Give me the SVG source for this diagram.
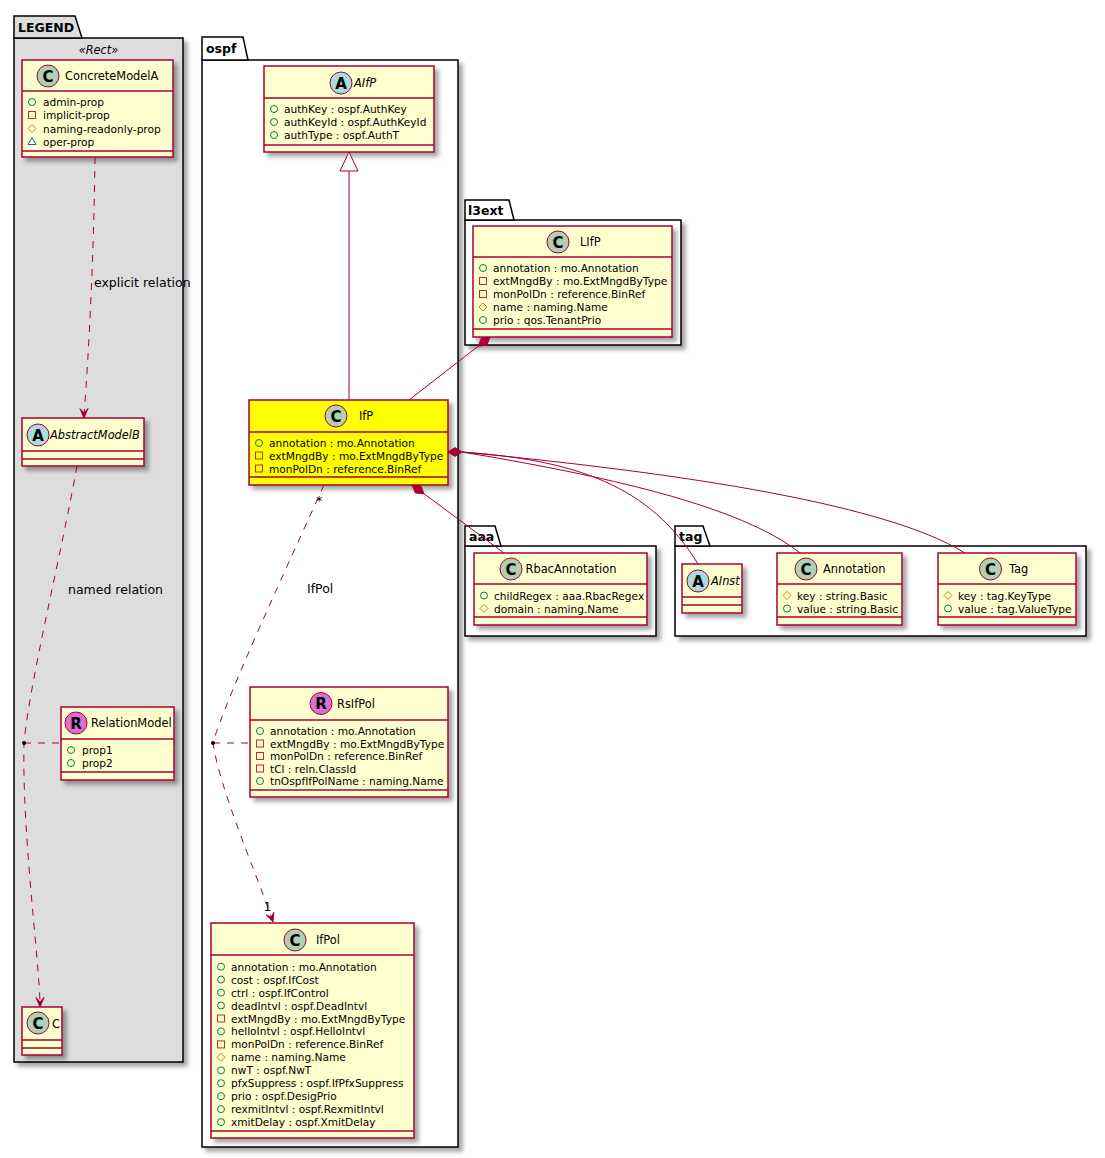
<svg xmlns="http://www.w3.org/2000/svg" width="1105" height="1158" viewBox="0 0 1105 1158">
<defs>
<filter id="sh" x="-10%" y="-10%" width="130%" height="130%">
<feGaussianBlur in="SourceAlpha" stdDeviation="2" result="b"/>
<feOffset in="b" dx="4" dy="4" result="o"/>
<feFlood flood-color="#000" flood-opacity="0.35"/>
<feComposite in2="o" operator="in" result="s"/>
<feMerge><feMergeNode in="s"/><feMergeNode in="SourceGraphic"/></feMerge>
</filter>
<circle id="pub" r="3.5" fill="none" stroke="#038048" stroke-width="1"/>
<rect id="priv" x="-3.5" y="-3.5" width="7" height="7" fill="none" stroke="#C82930" stroke-width="1"/>
<polygon id="prot" points="0,-4 4,0 0,4 -4,0" fill="none" stroke="#B38D22" stroke-width="1"/>
<polygon id="pkg" points="0,-4 4,3 -4,3" fill="none" stroke="#1963A0" stroke-width="1"/>
</defs>
<style>
.pk{fill:#fff;stroke:#000;stroke-width:1.5}
.leg{fill:#DDDDDD}
.pt{font-family:"DejaVu Sans",sans-serif;font-weight:bold;font-size:12.5px}
.box{fill:#FEFECE;stroke:#A80036;stroke-width:1.5}
.sep{stroke:#A80036;stroke-width:1.5}
.ci{stroke:#A80036;stroke-width:1}
.cC{fill:#ADD1B2}.cA{fill:#A9DCDF}.cR{fill:#DA70D6}
.lt{font-family:"DejaVu Sans",sans-serif;font-weight:bold;font-size:15px;text-anchor:middle}
.nm{font-family:"DejaVu Sans",sans-serif;font-size:11.4px}
.it{font-style:italic}
.at{font-family:"DejaVu Sans",sans-serif;font-size:10.6px}
.lb{font-family:"DejaVu Sans",sans-serif;font-size:12.5px}
.e{fill:none;stroke:#A80036;stroke-width:1}
.d{stroke-dasharray:7,7}
.ah{fill:#A80036;stroke:#A80036;stroke-width:1}
</style>
<rect width="1105" height="1158" fill="#fff"/>

<g id="pkg-LEGEND">
<rect class="pk leg" x="14" y="38" width="169" height="1024" filter="url(#sh)"/>
<polygon class="pk leg" points="14,38 14,16 75,16 82,38"/>
<text class="pt" x="18" y="32">LEGEND</text>
<text class="nm it" x="98.5" y="54" text-anchor="middle">«Rect»</text>
</g>
<g id="pkg-ospf">
<rect class="pk" x="202" y="60" width="256" height="1087" filter="url(#sh)"/>
<polygon class="pk" points="202,60 202,37 243,37 248,60"/>
<text class="pt" x="206" y="53">ospf</text>
</g>
<g id="pkg-l3ext">
<rect class="pk" x="465" y="220" width="216" height="125" filter="url(#sh)"/>
<polygon class="pk" points="465,220 465,200 509,200 514,220"/>
<text class="pt" x="468" y="215">l3ext</text>
</g>
<g id="pkg-aaa">
<rect class="pk" x="465" y="546" width="191" height="90" filter="url(#sh)"/>
<polygon class="pk" points="465,546 465,526 495,526 501,546"/>
<text class="pt" x="469" y="541">aaa</text>
</g>
<g id="pkg-tag">
<rect class="pk" x="675" y="546" width="411" height="90" filter="url(#sh)"/>
<polygon class="pk" points="675,546 675,526 703,526 710,546"/>
<text class="pt" x="679" y="541">tag</text>
</g>

<g id="ConcreteModelA">
<rect class="box" x="22" y="60" width="151" height="97" filter="url(#sh)"/>
<circle class="ci cC" cx="48" cy="76" r="11"/><text class="lt" x="48" y="81.5">C</text>
<text class="nm" x="65" y="80">ConcreteModelA</text>
<line class="sep" x1="22" y1="91" x2="173" y2="91"/>
<use href="#pub" x="32" y="102"/><text class="at" x="43" y="106">admin-prop</text>
<use href="#priv" x="32" y="115"/><text class="at" x="43" y="119">implicit-prop</text>
<use href="#prot" x="32" y="128.5"/><text class="at" x="43" y="132.5">naming-readonly-prop</text>
<use href="#pkg" x="32" y="141.5"/><text class="at" x="43" y="145.5">oper-prop</text>
<line class="sep" x1="22" y1="151" x2="173" y2="151"/>
</g>

<g id="AbstractModelB">
<rect class="box" x="22" y="418" width="122" height="48" filter="url(#sh)"/>
<circle class="ci cA" cx="38" cy="435" r="11"/><text class="lt" x="38" y="440.5">A</text>
<text class="nm it" x="50" y="439">AbstractModelB</text>
<line class="sep" x1="22" y1="451" x2="144" y2="451"/>
<line class="sep" x1="22" y1="459" x2="144" y2="459"/>
</g>

<g id="RelationModel">
<rect class="box" x="61" y="707" width="113" height="73" filter="url(#sh)"/>
<circle class="ci cR" cx="76" cy="723" r="11"/><text class="lt" x="76" y="728.5">R</text>
<text class="nm" x="91" y="727">RelationModel</text>
<line class="sep" x1="61" y1="739" x2="174" y2="739"/>
<use href="#pub" x="71" y="750"/><text class="at" x="82" y="754">prop1</text>
<use href="#pub" x="71" y="763"/><text class="at" x="82" y="767">prop2</text>
<line class="sep" x1="61" y1="772" x2="174" y2="772"/>
</g>

<g id="C">
<rect class="box" x="22" y="1007" width="40" height="48" filter="url(#sh)"/>
<circle class="ci cC" cx="38" cy="1023" r="11"/><text class="lt" x="38" y="1028.5">C</text>
<text class="nm" x="52" y="1027.5">C</text>
<line class="sep" x1="22" y1="1040" x2="62" y2="1040"/>
<line class="sep" x1="22" y1="1048" x2="62" y2="1048"/>
</g>

<g id="AIfP">
<rect class="box" x="264" y="66" width="170" height="86" filter="url(#sh)"/>
<circle class="ci cA" cx="341" cy="83" r="11"/><text class="lt" x="341" y="88.5">A</text>
<text class="nm it" x="354" y="87">AIfP</text>
<line class="sep" x1="264" y1="98" x2="434" y2="98"/>
<use href="#pub" x="274" y="109"/><text class="at" x="284" y="113">authKey : ospf.AuthKey</text>
<use href="#pub" x="274" y="122"/><text class="at" x="284" y="126">authKeyId : ospf.AuthKeyId</text>
<use href="#pub" x="274" y="135"/><text class="at" x="284" y="139">authType : ospf.AuthT</text>
<line class="sep" x1="264" y1="145" x2="434" y2="145"/>
</g>

<g id="LIfP">
<rect class="box" x="473" y="226" width="199" height="111" filter="url(#sh)"/>
<circle class="ci cC" cx="558" cy="242" r="11"/><text class="lt" x="558" y="247.5">C</text>
<text class="nm" x="580" y="246">LIfP</text>
<line class="sep" x1="473" y1="257" x2="672" y2="257"/>
<use href="#pub" x="483" y="268"/><text class="at" x="493" y="272">annotation : mo.Annotation</text>
<use href="#priv" x="483" y="281"/><text class="at" x="493" y="285">extMngdBy : mo.ExtMngdByType</text>
<use href="#priv" x="483" y="294"/><text class="at" x="493" y="298">monPolDn : reference.BinRef</text>
<use href="#prot" x="483" y="307"/><text class="at" x="493" y="311">name : naming.Name</text>
<use href="#pub" x="483" y="320"/><text class="at" x="493" y="324">prio : qos.TenantPrio</text>
<line class="sep" x1="473" y1="329" x2="672" y2="329"/>
</g>

<g id="IfP">
<rect class="box" x="249" y="400" width="199" height="85" style="fill:#FFFF00" filter="url(#sh)"/>
<circle class="ci cC" cx="336" cy="416" r="11"/><text class="lt" x="336" y="421.5">C</text>
<text class="nm" x="359" y="420">IfP</text>
<line class="sep" x1="249" y1="432" x2="448" y2="432"/>
<use href="#pub" x="259" y="443"/><text class="at" x="269" y="447">annotation : mo.Annotation</text>
<use href="#priv" x="259" y="455.5"/><text class="at" x="269" y="459.5">extMngdBy : mo.ExtMngdByType</text>
<use href="#priv" x="259" y="468.5"/><text class="at" x="269" y="472.5">monPolDn : reference.BinRef</text>
<line class="sep" x1="249" y1="477" x2="448" y2="477"/>
</g>

<g id="RbacAnnotation">
<rect class="box" x="474" y="553" width="173" height="72" filter="url(#sh)"/>
<circle class="ci cC" cx="511" cy="569" r="11"/><text class="lt" x="511" y="574.5">C</text>
<text class="nm" x="525.5" y="573">RbacAnnotation</text>
<line class="sep" x1="474" y1="584" x2="647" y2="584"/>
<use href="#pub" x="484" y="595.5"/><text class="at" x="494" y="599.5">childRegex : aaa.RbacRegex</text>
<use href="#prot" x="484" y="608.5"/><text class="at" x="494" y="612.5">domain : naming.Name</text>
<line class="sep" x1="474" y1="617" x2="647" y2="617"/>
</g>

<g id="AInst">
<rect class="box" x="682" y="564" width="60" height="49" filter="url(#sh)"/>
<circle class="ci cA" cx="698" cy="581" r="11"/><text class="lt" x="698" y="586.5">A</text>
<text class="nm it" x="711" y="585">AInst</text>
<line class="sep" x1="682" y1="597" x2="742" y2="597"/>
<line class="sep" x1="682" y1="605" x2="742" y2="605"/>
</g>

<g id="Annotation">
<rect class="box" x="777" y="553" width="125" height="72" filter="url(#sh)"/>
<circle class="ci cC" cx="806" cy="569" r="11"/><text class="lt" x="806" y="574.5">C</text>
<text class="nm" x="823" y="573">Annotation</text>
<line class="sep" x1="777" y1="584" x2="902" y2="584"/>
<use href="#prot" x="787" y="595.5"/><text class="at" x="797" y="599.5">key : string.Basic</text>
<use href="#pub" x="787" y="608.5"/><text class="at" x="797" y="612.5">value : string.Basic</text>
<line class="sep" x1="777" y1="617" x2="902" y2="617"/>
</g>

<g id="Tag">
<rect class="box" x="938" y="553" width="138" height="72" filter="url(#sh)"/>
<circle class="ci cC" cx="990.5" cy="569" r="11"/><text class="lt" x="990.5" y="574.5">C</text>
<text class="nm" x="1009" y="573">Tag</text>
<line class="sep" x1="938" y1="584" x2="1076" y2="584"/>
<use href="#prot" x="948" y="595.5"/><text class="at" x="958" y="599.5">key : tag.KeyType</text>
<use href="#pub" x="948" y="608.5"/><text class="at" x="958" y="612.5">value : tag.ValueType</text>
<line class="sep" x1="938" y1="617" x2="1076" y2="617"/>
</g>

<g id="RsIfPol">
<rect class="box" x="250" y="687" width="198" height="110" filter="url(#sh)"/>
<circle class="ci cR" cx="321" cy="703.5" r="11"/><text class="lt" x="321" y="709">R</text>
<text class="nm" x="337" y="708">RsIfPol</text>
<line class="sep" x1="250" y1="720" x2="448" y2="720"/>
<use href="#pub" x="260" y="731"/><text class="at" x="270" y="735">annotation : mo.Annotation</text>
<use href="#priv" x="260" y="743.5"/><text class="at" x="270" y="747.5">extMngdBy : mo.ExtMngdByType</text>
<use href="#priv" x="260" y="756"/><text class="at" x="270" y="760">monPolDn : reference.BinRef</text>
<use href="#priv" x="260" y="768.5"/><text class="at" x="270" y="772.5">tCl : reln.ClassId</text>
<use href="#pub" x="260" y="781"/><text class="at" x="270" y="785">tnOspfIfPolName : naming.Name</text>
<line class="sep" x1="250" y1="790" x2="448" y2="790"/>
</g>

<g id="IfPol">
<rect class="box" x="211" y="923" width="203" height="215" filter="url(#sh)"/>
<circle class="ci cC" cx="295" cy="940" r="11"/><text class="lt" x="295" y="945.5">C</text>
<text class="nm" x="316" y="944">IfPol</text>
<line class="sep" x1="211" y1="955" x2="414" y2="955"/>
<use href="#pub" x="221" y="966.7"/><text class="at" x="231" y="970.7">annotation : mo.Annotation</text>
<use href="#pub" x="221" y="979.6"/><text class="at" x="231" y="983.6">cost : ospf.IfCost</text>
<use href="#pub" x="221" y="992.6"/><text class="at" x="231" y="996.6">ctrl : ospf.IfControl</text>
<use href="#pub" x="221" y="1005.5"/><text class="at" x="231" y="1009.5">deadIntvl : ospf.DeadIntvl</text>
<use href="#priv" x="221" y="1018.5"/><text class="at" x="231" y="1022.5">extMngdBy : mo.ExtMngdByType</text>
<use href="#pub" x="221" y="1031.4"/><text class="at" x="231" y="1035.4">helloIntvl : ospf.HelloIntvl</text>
<use href="#priv" x="221" y="1044.4"/><text class="at" x="231" y="1048.4">monPolDn : reference.BinRef</text>
<use href="#prot" x="221" y="1057.3"/><text class="at" x="231" y="1061.3">name : naming.Name</text>
<use href="#pub" x="221" y="1070.3"/><text class="at" x="231" y="1074.3">nwT : ospf.NwT</text>
<use href="#pub" x="221" y="1083.2"/><text class="at" x="231" y="1087.2">pfxSuppress : ospf.IfPfxSuppress</text>
<use href="#pub" x="221" y="1096.2"/><text class="at" x="231" y="1100.2">prio : ospf.DesigPrio</text>
<use href="#pub" x="221" y="1109.1"/><text class="at" x="231" y="1113.1">rexmitIntvl : ospf.RexmitIntvl</text>
<use href="#pub" x="221" y="1122.1"/><text class="at" x="231" y="1126.1">xmitDelay : ospf.XmitDelay</text>
<line class="sep" x1="211" y1="1131" x2="414" y2="1131"/>
</g>

<g id="connectors">
<path class="e d" d="M95,157 C94,250 89,350 84.2,413"/>
<polygon class="ah" points="84,418 88,408.5 84.2,413 80,408.7"/>
<text class="lb" x="94" y="287">explicit relation</text>
<path class="e d" d="M77,466 C60,560 30,680 24,743 C22,830 38,950 40,1002"/>
<polygon class="ah" points="40,1007 44,997.5 40,1002 36,997.5"/>
<line class="e d" x1="24" y1="743" x2="61" y2="743"/>
<circle cx="24" cy="743" r="2" fill="#000"/>
<text class="lb" x="68" y="594">named relation</text>
<line class="e" x1="349" y1="171" x2="349" y2="400"/>
<polygon points="349,152 340,171 358,171" fill="#fff" stroke="#A80036" stroke-width="1"/>
<line class="e" x1="478.2" y1="346.2" x2="409" y2="400"/>
<polygon class="ah" points="490,337 486.9,345.2 478.2,346.2 481.3,338.1"/>
<polygon class="ah" points="448,452 455,447.5 462,452 455,456.5"/>
<path class="e" d="M462,452 C575,460 650,485 698,564"/>
<path class="e" d="M462,452 C600,475 740,505 800,553"/>
<path class="e" d="M462,452 C650,470 880,500 965,553"/>
<polygon class="ah" points="412,485 415.4,493 424.1,493.8 420.7,485.8"/>
<line class="e" x1="424.1" y1="493.8" x2="504" y2="553"/>
<path class="e d" d="M324,485 C290,560 225,700 213,743 C220,790 255,870 271.4,917.3"/>
<polygon class="ah" points="273,922 273.8,912.2 271.4,917.3 266.3,914.8"/>
<line class="e d" x1="213" y1="743" x2="250" y2="743"/>
<circle cx="213" cy="743" r="2" fill="#000"/>
<text class="lb" x="307" y="593">IfPol</text>
<text class="lb" x="316" y="505">*</text>
<text class="lb" x="263.5" y="911">1</text>
</g>
</svg>
